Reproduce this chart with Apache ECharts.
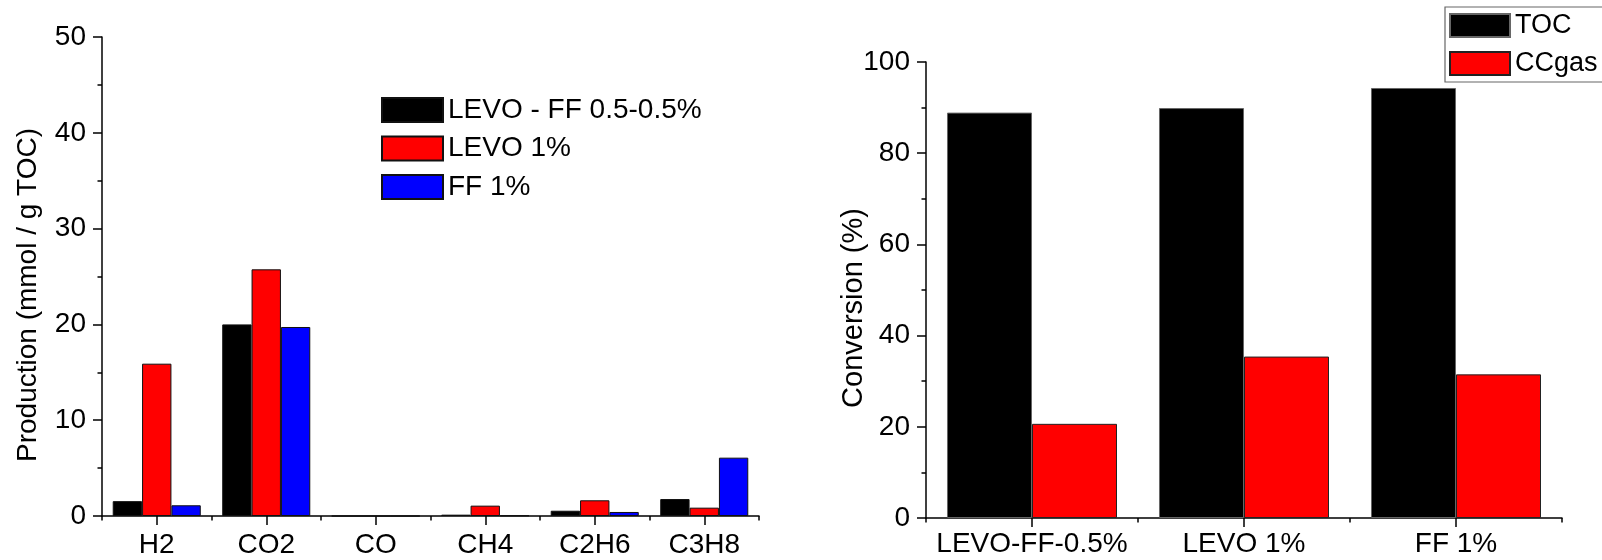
<!DOCTYPE html>
<html>
<head>
<meta charset="utf-8">
<script src="https://cdn.jsdelivr.net/npm/echarts@6/dist/echarts.min.js"></script>
<style>html,body{margin:0;padding:0;background:#fff}#c{width:1602px;height:560px}</style>
</head>
<body>
<div id="c"></div>
<script>
// Left chart data
const gasCategories = ['H2', 'CO2', 'CO', 'CH4', 'C2H6', 'C3H8'];
const levoFF = [1.55, 20.0, 0, 0.14, 0.55, 1.77];
const levo1 = [15.9, 25.75, 0, 1.08, 1.64, 0.87];
const ff1 = [1.12, 19.73, 0, 0.05, 0.42, 6.09];
const leftTicks = { min: 0, max: 50, interval: 10 };

// Right chart data
const sampleCategories = ['LEVO-FF-0.5%', 'LEVO 1%', 'FF 1%'];
const tocConv = [88.9, 89.9, 94.3];
const ccgasConv = [20.65, 35.4, 31.5];
const rightTicks = { min: 0, max: 100, interval: 20 };

const FONT = "'Liberation Sans', Arial, sans-serif";
const chart = echarts.init(document.getElementById('c'), null, { renderer: 'canvas' });

function yAxisCfg(gridIndex, t) {
  return {
    type: 'value', gridIndex: gridIndex, min: t.min, max: t.max, interval: t.interval,
    axisLine: { show: true, lineStyle: { color: '#000', width: 1.5 } },
    axisTick: { show: true, length: 9, lineStyle: { color: '#000', width: 1.5 } },
    minorTick: { show: true, splitNumber: 2, length: 4.5, lineStyle: { color: '#000', width: 1.5 } },
    splitLine: { show: false },
    axisLabel: { color: '#000', fontSize: 28, fontFamily: FONT, margin: 16 }
  };
}
function xAxisMain(gridIndex, data, margin) {
  return {
    type: 'category', gridIndex: gridIndex, data: data, position: 'bottom',
    axisLine: { show: true, lineStyle: { color: '#000', width: 1.5 } },
    axisTick: { show: true, alignWithLabel: true, length: 9, lineStyle: { color: '#000', width: 1.5 } },
    axisLabel: { color: '#000', fontSize: 28, fontFamily: FONT, margin: margin, interval: 0 },
    splitLine: { show: false }
  };
}
function xAxisBoundary(gridIndex, data) {
  return {
    type: 'category', gridIndex: gridIndex, data: data, position: 'bottom',
    axisLine: { show: false },
    axisTick: { show: true, alignWithLabel: false, length: 4.5, interval: 0, lineStyle: { color: '#000', width: 1.5 } },
    axisLabel: { show: false },
    splitLine: { show: false }
  };
}

const barBorder = { borderColor: '#111', borderWidth: 1 };

chart.setOption({
  animation: false,
  backgroundColor: '#fff',
  textStyle: { fontFamily: FONT },
  grid: [
    { left: 102, top: 37, width: 657, height: 479, containLabel: false },
    { left: 926, top: 62, width: 636, height: 456, containLabel: false }
  ],
  legend: [
    {
      data: ['LEVO - FF 0.5-0.5%', 'LEVO 1%', 'FF 1%'],
      orient: 'vertical', left: 381, top: 96, padding: 0,
      itemWidth: 61, itemHeight: 24, itemGap: 10.5, icon: 'rect',
      textStyle: { fontSize: 28, color: '#000', fontFamily: FONT, lineHeight: 24 },
      selectedMode: false
    },
    {
      data: ['TOC', 'CCgas'],
      orient: 'vertical', left: 1445, top: 7, padding: [5, 40, 5, 4],
      itemWidth: 60, itemHeight: 23, itemGap: 11, icon: 'rect',
      borderColor: '#666', borderWidth: 1.2,
      textStyle: { fontSize: 27, color: '#000', fontFamily: FONT, lineHeight: 23 },
      selectedMode: false
    }
  ],
  xAxis: [
    xAxisMain(0, gasCategories, 15),
    xAxisBoundary(0, gasCategories),
    xAxisMain(1, sampleCategories, 12),
    xAxisBoundary(1, sampleCategories)
  ],
  yAxis: [yAxisCfg(0, leftTicks), yAxisCfg(1, rightTicks)],
  graphic: [
    { type: 'text', x: 28, y: 295, rotation: Math.PI / 2,
      style: { text: 'Production (mmol / g TOC)', fill: '#000', font: '28px ' + FONT, align: 'center', verticalAlign: 'middle' } },
    { type: 'text', x: 854, y: 308, rotation: Math.PI / 2,
      style: { text: 'Conversion (%)', fill: '#000', font: '29px ' + FONT, align: 'center', verticalAlign: 'middle' } }
  ],
  series: [
    { name: 'LEVO - FF 0.5-0.5%', type: 'bar', xAxisIndex: 0, yAxisIndex: 0, data: levoFF,
      barGap: '0%', barCategoryGap: '19.6%', itemStyle: Object.assign({ color: '#000' }, barBorder) },
    { name: 'LEVO 1%', type: 'bar', xAxisIndex: 0, yAxisIndex: 0, data: levo1,
      barGap: '0%', barCategoryGap: '19.6%', itemStyle: Object.assign({ color: '#ff0000' }, barBorder) },
    { name: 'FF 1%', type: 'bar', xAxisIndex: 0, yAxisIndex: 0, data: ff1,
      barGap: '0%', barCategoryGap: '19.6%', itemStyle: Object.assign({ color: '#0000ff' }, barBorder) },
    { name: 'TOC', type: 'bar', xAxisIndex: 2, yAxisIndex: 1, data: tocConv,
      barGap: '0%', barCategoryGap: '19.8%', itemStyle: { color: '#000', borderColor: '#666', borderWidth: 1 } },
    { name: 'CCgas', type: 'bar', xAxisIndex: 2, yAxisIndex: 1, data: ccgasConv,
      barGap: '0%', barCategoryGap: '19.8%', itemStyle: { color: '#ff0000', borderColor: '#222', borderWidth: 1 } }
  ]
});
</script>
</body>
</html>
